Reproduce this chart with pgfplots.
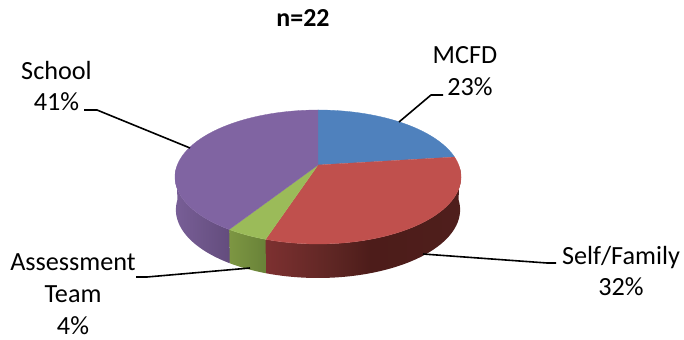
\documentclass[border=0pt]{standalone}
\usepackage{fontspec}
\setmainfont{Carlito}
\usepackage{pgfplots}
\usepackage{pgfplotstable}
\pgfplotsset{compat=1.18}

% Share of referrals by source, percent
\pgfplotstableread{
source value
MCFD 23
SelfFamily 32
AssessmentTeam 4
School 41
}\referrals

\pgfplotstablegetelem{0}{value}\of\referrals \edef\valA{\pgfplotsretval}
\pgfplotstablegetelem{1}{value}\of\referrals \edef\valB{\pgfplotsretval}
\pgfplotstablegetelem{2}{value}\of\referrals \edef\valC{\pgfplotsretval}
\pgfplotstablegetelem{3}{value}\of\referrals \edef\valD{\pgfplotsretval}

% Slice boundaries, degrees clockwise from the top of the pie
\pgfmathsetmacro\angA{3.6*\valA}
\pgfmathsetmacro\angB{\angA+3.6*\valB}
\pgfmathsetmacro\angC{\angB+3.6*\valC}
\pgfmathsetmacro\angD{\angC+3.6*\valD}

\definecolor{pieblue}{RGB}{79,129,189}
\definecolor{piered}{RGB}{192,80,77}
\definecolor{piegreen}{RGB}{155,187,89}
\definecolor{piepurple}{RGB}{128,100,162}

\pgfdeclarehorizontalshading{redwall}{100bp}{
  rgb(0bp)=(.49,.19,.19); rgb(25bp)=(.49,.19,.19); rgb(42bp)=(.37,.15,.14);
  rgb(52bp)=(.30,.11,.10); rgb(75bp)=(.31,.12,.11); rgb(100bp)=(.31,.12,.11)}
\pgfdeclarehorizontalshading{greenwall}{100bp}{
  rgb(0bp)=(.49,.59,.26); rgb(25bp)=(.49,.59,.26); rgb(75bp)=(.41,.51,.22); rgb(100bp)=(.41,.51,.22)}
\pgfdeclarehorizontalshading{purplewall}{100bp}{
  rgb(0bp)=(.47,.37,.59); rgb(25bp)=(.47,.37,.59); rgb(75bp)=(.39,.30,.49); rgb(100bp)=(.39,.30,.49)}

% Perspective projection of the upper and lower faces of the disc
\pgfplotsset{
  /pgf/declare function={
    rimw(\t)=1+0.179*cos(\t);
    upx(\t)=140.7*sin(\t)/rimw(\t);
    upy(\t)=64.85*cos(\t)/rimw(\t);
    lox(\t)=318+139.8*sin(\t)/rimw(\t);
    loy(\t)=142.4+66*cos(\t)/rimw(\t);
    onrim(\s)=(\s>=0);
    arcpos(\s)=max(\s,0)/60;
  }
}

\tikzset{lab/.style={font=\fontsize{26.3}{32}\selectfont, align=center, text=black, inner sep=0pt}}

% Top face of one slice: centre point, then the rim
\newcommand{\topslice}[3]{%
  \addplot[fill=#1,draw=#1,line width=0.3bp,domain=-1:60,samples=62,variable=\s]
    ({318+onrim(\s)*upx(#2+(#3-#2)*arcpos(\s))},
     {175+onrim(\s)*upy(#2+(#3-#2)*arcpos(\s))});}

% Side wall of one slice: upper rim forward, lower rim back
\newcommand{\wallslice}[3]{%
  \addplot[shade,shading=#1,draw=none,domain=0:121,samples=122,variable=\s]
    ({\s<=60 ? 318+upx(#2+(#3-#2)*\s/60) : lox(#3-(#3-#2)*(\s-61)/60)},
     {\s<=60 ? 175+upy(#2+(#3-#2)*\s/60) : loy(#3-(#3-#2)*(\s-61)/60)});}

\begin{document}
\begin{tikzpicture}
\path[use as bounding box] (0,0) rectangle (684bp,340bp);
\begin{axis}[
  scale only axis, width=684bp, height=340bp,
  xmin=0, xmax=684, ymin=0, ymax=340,
  hide axis, clip=false,
]
  % Side walls, nearest slices painted before the top faces
  \wallslice{redwall}{max(\angA,92)}{\angB}
  \wallslice{greenwall}{\angB}{\angC}
  \wallslice{purplewall}{\angC}{min(\angD,268)}

  % Top faces
  \topslice{pieblue}{0}{\angA}
  \topslice{piered}{\angA}{\angB}
  \topslice{piegreen}{\angB}{\angC}
  \topslice{piepurple}{\angC}{\angD}

  % Leader lines
  \addplot[black,line width=1.6bp,line join=round] coordinates {(84,230) (97,230) (190,192)};
  \addplot[black,line width=1.6bp,line join=round] coordinates {(399,218) (431,245) (443,245)};
  \addplot[black,line width=1.6bp,line join=round] coordinates {(423,86) (547,77) (556,77)};
  \addplot[black,line width=1.6bp,line join=round] coordinates {(136,63) (147,63) (250,72)};

  % Labels
  \node[lab,font=\fontsize{26}{32}\selectfont\bfseries] at (axis cs:303,322) {n=22};
  \node[lab] at (axis cs:56.5,254) {School\\41\%};
  \node[lab] at (axis cs:465,285) {MCFD};
  \node[lab] at (axis cs:470,253) {23\%};
  \node[lab] at (axis cs:621,69) {Self/Family\\32\%};
  \node[lab] at (axis cs:73,45.5) {Assessment\\Team\\4\%};
\end{axis}
\end{tikzpicture}
\end{document}
